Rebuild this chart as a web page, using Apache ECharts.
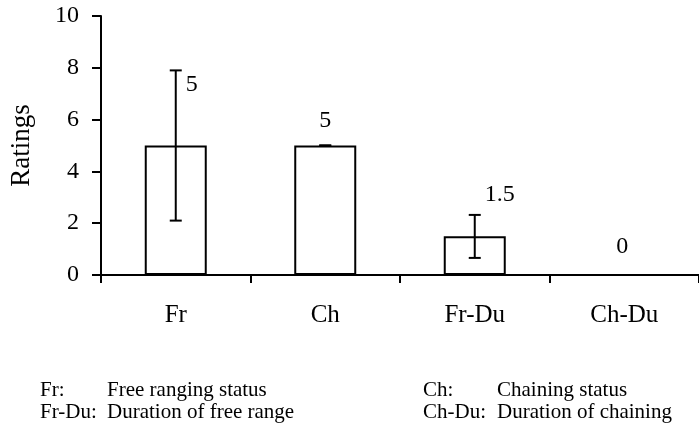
<!DOCTYPE html>
<html><head><meta charset="utf-8">
<script src="https://cdn.jsdelivr.net/npm/echarts@6/dist/echarts.min.js"></script>
<style>html,body{margin:0;padding:0;background:#fff}#c{width:699px;height:428px}</style>
</head><body><div id="c"></div>
<script>
const categories = ['Fr', 'Ch', 'Fr-Du', 'Ch-Du'];
const ratings = [5, 5, 1.5, 0];
const errLow = [2.1, 5, 0.66, 0];
const errHigh = [7.9, 5, 2.32, 0];
const valueLabels = ['5', '5', '1.5', '0'];
const yTicks = [0, 2, 4, 6, 8, 10];
const footnotes = [
  ['Fr:', 'Free ranging status'],
  ['Fr-Du:', 'Duration of free range'],
  ['Ch:', 'Chaining status'],
  ['Ch-Du:', 'Duration of chaining']
];

// styling only
const labelOffsets = [[16, -44], [0, -8], [25, -24], [-2, -10]];
const FONT = '"Liberation Serif", "Times New Roman", serif';

const chart = echarts.init(document.getElementById('c'), null, {renderer: 'canvas'});
const footPos = [[40, 390, 107], [40, 412, 107], [423, 390, 497], [423, 412, 497]];
const graphics = [];
footnotes.forEach((f, i) => {
  const p = footPos[i];
  graphics.push({type: 'text', x: p[0], y: p[1], style: {text: f[0], font: '21px ' + FONT, fill: '#000', verticalAlign: 'middle'}});
  graphics.push({type: 'text', x: p[2], y: p[1], style: {text: f[1], font: '21px ' + FONT, fill: '#000', verticalAlign: 'middle'}});
});

chart.setOption({
  animation: false,
  backgroundColor: '#fff',
  grid: {left: 99, top: 16, width: 606, bottom: 153, containLabel: false},
  xAxis: {
    type: 'category',
    data: categories,
    boundaryGap: true,
    axisLine: {lineStyle: {color: '#000', width: 2}},
    axisTick: {show: true, inside: false, length: 8, lineStyle: {color: '#000', width: 2}, alignWithLabel: false},
    axisLabel: {color: '#000', fontFamily: FONT, fontSize: 25, margin: 28}
  },
  yAxis: {
    type: 'value',
    min: yTicks[0], max: yTicks[yTicks.length - 1], interval: 2,
    name: 'Ratings', nameLocation: 'middle', nameGap: 66,
    nameTextStyle: {color: '#000', fontFamily: FONT, fontSize: 27},
    axisLine: {show: true, lineStyle: {color: '#000', width: 2}},
    axisTick: {show: true, inside: false, length: 9, lineStyle: {color: '#000', width: 2}},
    axisLabel: {color: '#000', fontFamily: FONT, fontSize: 24, margin: 22},
    splitLine: {show: false}
  },
  series: [
    {
      type: 'bar',
      barWidth: 62,
      data: ratings.map((v, i) => ({
        value: v,
        label: {show: true, position: 'top', distance: 5, offset: labelOffsets[i], formatter: valueLabels[i]}
      })),
      itemStyle: {color: '#fff', borderColor: '#000', borderWidth: 2},
      label: {color: '#000', fontFamily: FONT, fontSize: 24},
      z: 2
    },
    {
      type: 'custom',
      z: 3,
      data: categories.map((c, i) => [i, errLow[i], errHigh[i]]),
      renderItem: function (params, api) {
        const i = api.value(0);
        const lo = api.coord([i, api.value(1)]);
        const hi = api.coord([i, api.value(2)]);
        const hw = 6;
        const st = {stroke: '#000', lineWidth: 2};
        return {
          type: 'group',
          children: [
            {type: 'line', shape: {x1: lo[0], y1: lo[1], x2: hi[0], y2: hi[1]}, style: st},
            {type: 'line', shape: {x1: hi[0] - hw, y1: hi[1], x2: hi[0] + hw, y2: hi[1]}, style: st},
            {type: 'line', shape: {x1: lo[0] - hw, y1: lo[1], x2: lo[0] + hw, y2: lo[1]}, style: st}
          ]
        };
      }
    }
  ],
  graphic: graphics
});
</script></body></html>
